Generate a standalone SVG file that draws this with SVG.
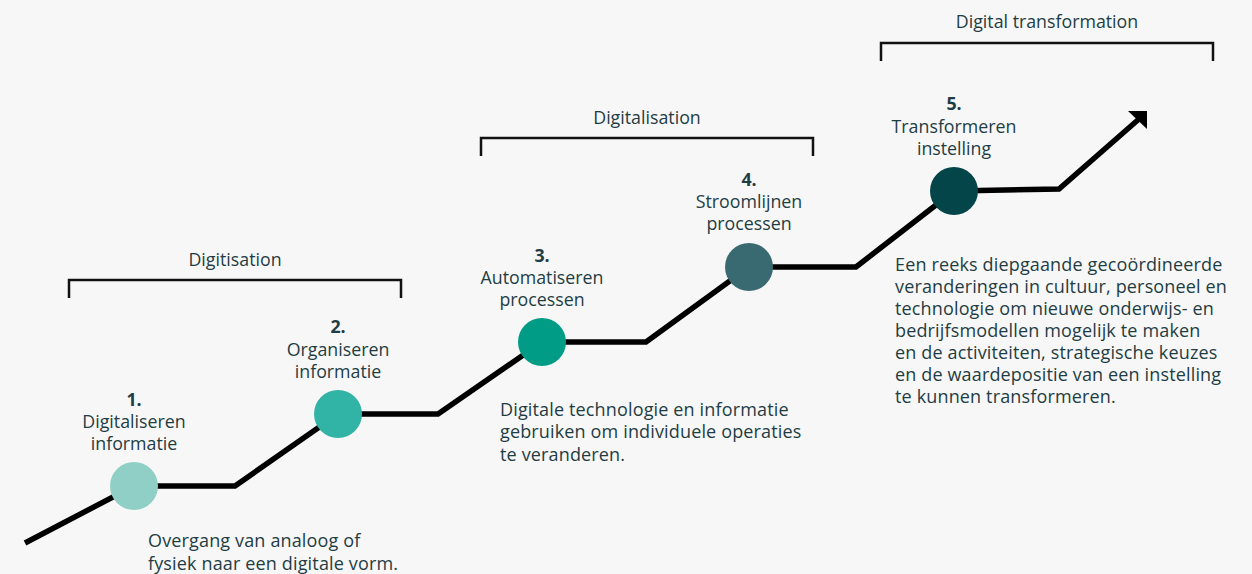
<svg xmlns="http://www.w3.org/2000/svg" width="1252" height="574" viewBox="0 0 1252 574">
  <style>
    text { font-family: "Open Sans", "Liberation Sans", sans-serif; font-size: 17.8px; fill: #1f3d44; }
    .num { font-weight: 700; text-anchor: middle; }
    .lbl { text-anchor: middle; }
    .phase { text-anchor: middle; }
    .desc { font-size: 18px; letter-spacing: 0.15px; }
    .bracket { fill: none; stroke: #111; stroke-width: 2.5; }
    .path { fill: none; stroke: #000; stroke-width: 5.5; stroke-linejoin: miter; }
  </style>
  <rect width="1252" height="574" fill="#f7f7f7"/>

  <!-- phase brackets -->
  <g id="phase-digitisation">
    <text class="phase" x="235" y="266">Digitisation</text>
    <path class="bracket" d="M69 298 V280 H401 V298"/>
  </g>
  <g id="phase-digitalisation">
    <text class="phase" x="647" y="124">Digitalisation</text>
    <path class="bracket" d="M481 156 V138 H813 V156"/>
  </g>
  <g id="phase-transformation">
    <text class="phase" x="1047" y="28">Digital transformation</text>
    <path class="bracket" d="M881 61 V43 H1213 V61"/>
  </g>

  <!-- staircase connector -->
  <g id="connectors">
    <polyline class="path" points="25,543 134,486 235,486 338,414 438,414 542,342 646,342 749,267 856,267 954,191 1059,189 1139,119"/>
    <polygon points="1128,111 1147,111 1147,129" fill="#000"/>
  </g>

  <g id="node1">
    <circle cx="134" cy="486" r="24" fill="#8fcfc5"/>
    <text class="num" x="134" y="406">1.</text>
    <text class="lbl" x="134" y="428">Digitaliseren</text>
    <text class="lbl" x="134" y="450">informatie</text>
    <text class="desc" x="148" y="547">Overgang van analoog of</text>
    <text class="desc" x="148" y="570">fysiek naar een digitale vorm.</text>
  </g>

  <g id="node2">
    <circle cx="338" cy="414" r="24" fill="#31b3a5"/>
    <text class="num" x="338" y="333">2.</text>
    <text class="lbl" x="338" y="356">Organiseren</text>
    <text class="lbl" x="338" y="378">informatie</text>
  </g>

  <g id="node3">
    <circle cx="542" cy="342" r="24" fill="#009c86"/>
    <text class="num" x="542" y="262">3.</text>
    <text class="lbl" x="542" y="284">Automatiseren</text>
    <text class="lbl" x="542" y="306">processen</text>
    <text class="desc" x="500" y="416">Digitale technologie en informatie</text>
    <text class="desc" x="500" y="438">gebruiken om individuele operaties</text>
    <text class="desc" x="500" y="461">te veranderen.</text>
  </g>

  <g id="node4">
    <circle cx="749" cy="267" r="24" fill="#3a6a71"/>
    <text class="num" x="749" y="186">4.</text>
    <text class="lbl" x="749" y="208">Stroomlijnen</text>
    <text class="lbl" x="749" y="230">processen</text>
  </g>

  <g id="node5">
    <circle cx="954" cy="191" r="24" fill="#034548"/>
    <text class="num" x="954" y="110">5.</text>
    <text class="lbl" x="954" y="133">Transformeren</text>
    <text class="lbl" x="954" y="155">instelling</text>
    <text class="desc" x="895" y="271">Een reeks diepgaande gecoördineerde</text>
    <text class="desc" x="895" y="293">veranderingen in cultuur, personeel en</text>
    <text class="desc" x="895" y="315">technologie om nieuwe onderwijs- en</text>
    <text class="desc" x="895" y="337">bedrijfsmodellen mogelijk te maken</text>
    <text class="desc" x="895" y="359">en de activiteiten, strategische keuzes</text>
    <text class="desc" x="895" y="381">en de waardepositie van een instelling</text>
    <text class="desc" x="895" y="403">te kunnen transformeren.</text>
  </g>
</svg>
